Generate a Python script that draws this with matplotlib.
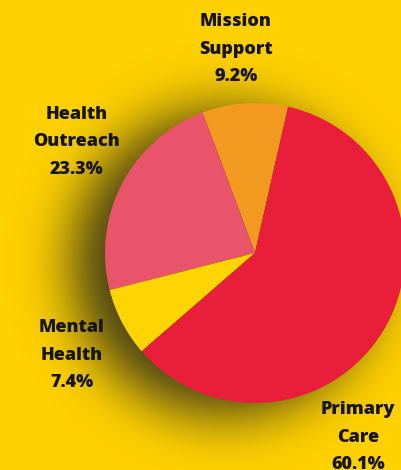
import math
import numpy as np
import matplotlib
matplotlib.use("Agg")
import matplotlib.pyplot as plt

# data
categories = ["Mission\nSupport", "Health\nOutreach", "Mental\nHealth", "Primary\nCare"]
shares = [9.2, 23.3, 7.4, 60.1]
colors = ["#F29A1F", "#EA546B", "#FFD400", "#E81E3A"]
label_pos = [(236, 421), (77, 328), (72, 115), (358, 33)]  # label centres, pixels

bg = "#FFD100"
W, H = 401, 470
cx, cy, r = 255, 217, 150

fig = plt.figure(figsize=(W / 100, H / 100), dpi=100, facecolor=bg)
ax = fig.add_axes([0, 0, 1, 1])
ax.set_facecolor(bg)

# blurred dark copy of the disc behind the pie, shifted left/down
xx, yy = np.meshgrid(np.arange(W) + 0.5, np.arange(H) + 0.5)
d = np.hypot(xx - (cx - 30), yy - (cy - 10))
erfc = np.vectorize(math.erfc)
alpha = 0.9 * 0.5 * erfc((d - r) / (math.sqrt(2) * 28))
glow = np.zeros((H, W, 4))
glow[..., 0] = 0.17
glow[..., 1] = 0.17
glow[..., 2] = 0.10
glow[..., 3] = alpha
ax.imshow(glow, extent=(0, W, 0, H), origin="lower", zorder=0, interpolation="bilinear")

ax.pie(shares, colors=colors, startangle=77.3, counterclock=True,
       radius=r, center=(cx, cy), wedgeprops={"linewidth": 0},
       frame=True)

for cat, val, (x, y) in zip(categories, shares, label_pos):
    ax.text(x, y, f"{cat}\n{val:.1f}%", ha="center", va="center",
            fontsize=13, fontweight="heavy", family="Open Sans",
            color="#16160f", linespacing=1.8, zorder=5)

ax.set_xlim(0, W)
ax.set_ylim(0, H)
ax.set_aspect("equal")
ax.axis("off")

fig.savefig("out.png", dpi=100, facecolor=bg)
